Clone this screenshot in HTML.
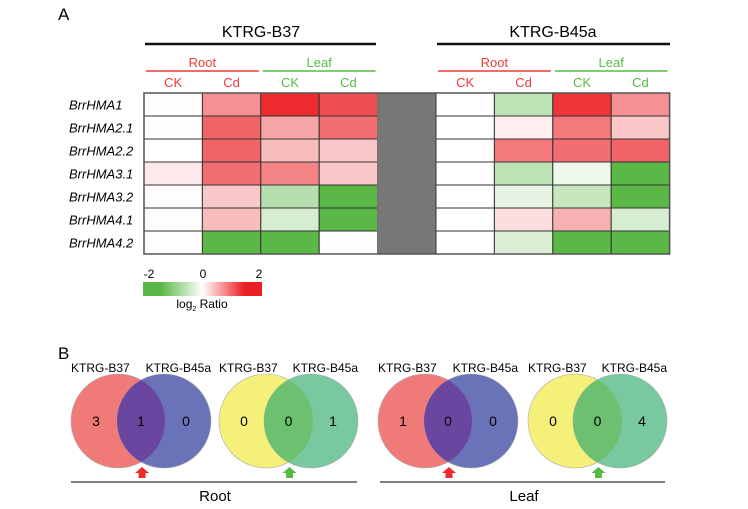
<!DOCTYPE html>
<html><head><meta charset="utf-8"><style>
body{margin:0;background:#fff;}
svg{display:block;font-family:"Liberation Sans",Arial,sans-serif;}
</style></head><body>
<svg id="c" width="748" height="509" viewBox="0 0 748 509">
<text x="58" y="20" font-size="17">A</text>
<text x="261" y="37" font-size="16" text-anchor="middle">KTRG-B37</text>
<line x1="145" y1="44" x2="376" y2="44" stroke="#111" stroke-width="2.5"/>
<text x="553" y="37" font-size="16" text-anchor="middle">KTRG-B45a</text>
<line x1="437" y1="44" x2="670" y2="44" stroke="#111" stroke-width="2.5"/>
<g id="hm"></g>
<defs><linearGradient id="cb" x1="0" x2="1"><stop offset="0" stop-color="#5bb846"/><stop offset="0.15" stop-color="#5bb846"/><stop offset="0.5" stop-color="#fff"/><stop offset="0.85" stop-color="#ec2024"/><stop offset="1" stop-color="#ec2024"/></linearGradient></defs>
<rect x="143" y="282" width="119" height="14" fill="url(#cb)"/>
<text x="149" y="278" font-size="12" text-anchor="middle">-2</text>
<text x="203" y="278" font-size="12" text-anchor="middle">0</text>
<text x="259" y="278" font-size="12" text-anchor="middle">2</text>
<text x="202" y="308" font-size="12" text-anchor="middle">log<tspan font-size="7" dy="3">2</tspan><tspan dy="-3"> Ratio</tspan></text>
<text x="58" y="359" font-size="17">B</text>
<g id="venn"></g>
<line x1="71" y1="482" x2="357" y2="482" stroke="#555" stroke-width="1.5"/>
<text x="215" y="501" font-size="15" text-anchor="middle">Root</text>
<line x1="380" y1="482" x2="665" y2="482" stroke="#555" stroke-width="1.5"/>
<text x="524" y="501" font-size="15" text-anchor="middle">Leaf</text>
</svg>
<script>
const genes=["BrrHMA1","BrrHMA2.1","BrrHMA2.2","BrrHMA3.1","BrrHMA3.2","BrrHMA4.1","BrrHMA4.2"];
const b37=[[0.02,1.0,1.9,1.6],[0.02,1.4,0.8,1.3],[0,1.4,0.6,0.5],[0.2,1.3,1.1,0.5],[0.03,0.5,-0.9,-2],[0.03,0.6,-0.5,-2],[0.03,-2,-2,0.03]];
const b45a=[[0,-0.8,1.8,1.0],[0,0.15,1.2,0.5],[0,1.2,1.3,1.4],[0,-0.8,-0.2,-2],[0,-0.3,-0.7,-2],[0,0.3,0.7,-0.5],[0,-0.45,-2,-2]];
const colLabels=["CK","Cd","CK","Cd"];
const vennCounts=[[3,1,0],[0,0,1],[1,0,0],[0,0,4]];
const NS="http://www.w3.org/2000/svg";
function mk(t,a,p,txt){const e=document.createElementNS(NS,t);for(const k in a)e.setAttribute(k,a[k]);if(txt!==undefined)e.textContent=txt;p.appendChild(e);return e;}
const X0=144,CW=58.4,Y0=93,RH=23;
const xs=i=>X0+i*CW, ys=r=>Y0+r*RH;
function col(v){const t=Math.min(1,Math.abs(v)/2);const g=[91,184,70],r=[236,32,36];const c=v<0?g:r;
return `rgb(${Math.round(255+(c[0]-255)*t)},${Math.round(255+(c[1]-255)*t)},${Math.round(255+(c[2]-255)*t)})`;}
const hm=document.getElementById('hm');
[[0,"#ee3a3a","Root"],[2,"#55bb44","Leaf"],[5,"#ee3a3a","Root"],[7,"#55bb44","Leaf"]].forEach(([i,c,t])=>{
  let e=mk('text',{x:xs(i)+CW,y:67,'font-size':13,fill:c,'text-anchor':'middle'},hm,t);
  
  
  let l=mk('line',{x1:xs(i)+2,x2:xs(i+2)-2,y1:71,y2:71,stroke:c,'stroke-width':1.5},hm);
  
  
});
[0,1,2,3,5,6,7,8].forEach((i,k)=>{
  let e=mk('text',{x:xs(i)+CW/2,y:87,'font-size':13,fill:(k%4)<2?"#ee3a3a":"#55bb44",'text-anchor':'middle'},hm,colLabels[k%4]);
  
  
});
genes.forEach((g,r)=>{
  let t=mk('text',{x:69,y:ys(r)+RH/2+5,'font-size':13,'font-style':'italic'},hm,g);
  
  
  const vals=[...b37[r],null,...b45a[r]];
  vals.forEach((v,i)=>{
    let e=mk('rect',{x:xs(i),y:ys(r),width:CW,height:RH,fill:v===null?'#777':col(v),stroke:v===null?'#777':'#333','stroke-width':1},hm);
    
    
  });
});
mk('rect',{x:X0,y:Y0,width:CW*9,height:RH*7,fill:'none',stroke:'#555','stroke-width':1.5},hm);
const vg=document.getElementById('venn');
const vennX=[118,266,425,575],D=[46,45,46,45];
const pal=[["#f07a78","#6a72b8","#6a46a0"],["#f5f07a","#78c8a0","#6cc070"],["#f07a78","#6a72b8","#6a46a0"],["#f5f07a","#78c8a0","#6cc070"]];
vennX.forEach((cx,k)=>{
  const d=D[k],cy=421,R=47;
  let a=mk('circle',{cx:cx,cy:cy,r:R,fill:pal[k][0],stroke:'#aaa','stroke-width':0.6},vg);
  
  
  let b=mk('circle',{cx:cx+d,cy:cy,r:R,fill:pal[k][1],stroke:'#aaa','stroke-width':0.6},vg);
  
  
  const cid='clip'+k;const cp=mk('clipPath',{id:cid},vg);mk('circle',{cx:cx,cy:cy,r:R},cp);
  let o=mk('circle',{cx:cx+d,cy:cy,r:R,fill:pal[k][2],'clip-path':`url(#${cid})`},vg);
  
  
  [cx-22,cx+d/2,cx+d+22].forEach((x,j)=>{
    let t=mk('text',{x:x,y:cy+5,'font-size':14,'text-anchor':'middle'},vg,vennCounts[k][j]);
    
    
  });
  let l1=mk('text',{x:cx-47,y:372,'font-size':12},vg,"KTRG-B37");
  
  
  let l2=mk('text',{x:cx+d+47,y:372,'font-size':12,'text-anchor':'end'},vg,"KTRG-B45a");
  
  
  const ax=cx+d/2+1,ac=k%2?'#55bb44':'#ee2a2a';
  let ar=mk('path',{d:`M${ax} 467 L${ax+7} 473 L${ax+3.5} 473 L${ax+3.5} 478 L${ax-3.5} 478 L${ax-3.5} 473 L${ax-7} 473 Z`,fill:ac},vg);
  
  
});
</script>
</body></html>
